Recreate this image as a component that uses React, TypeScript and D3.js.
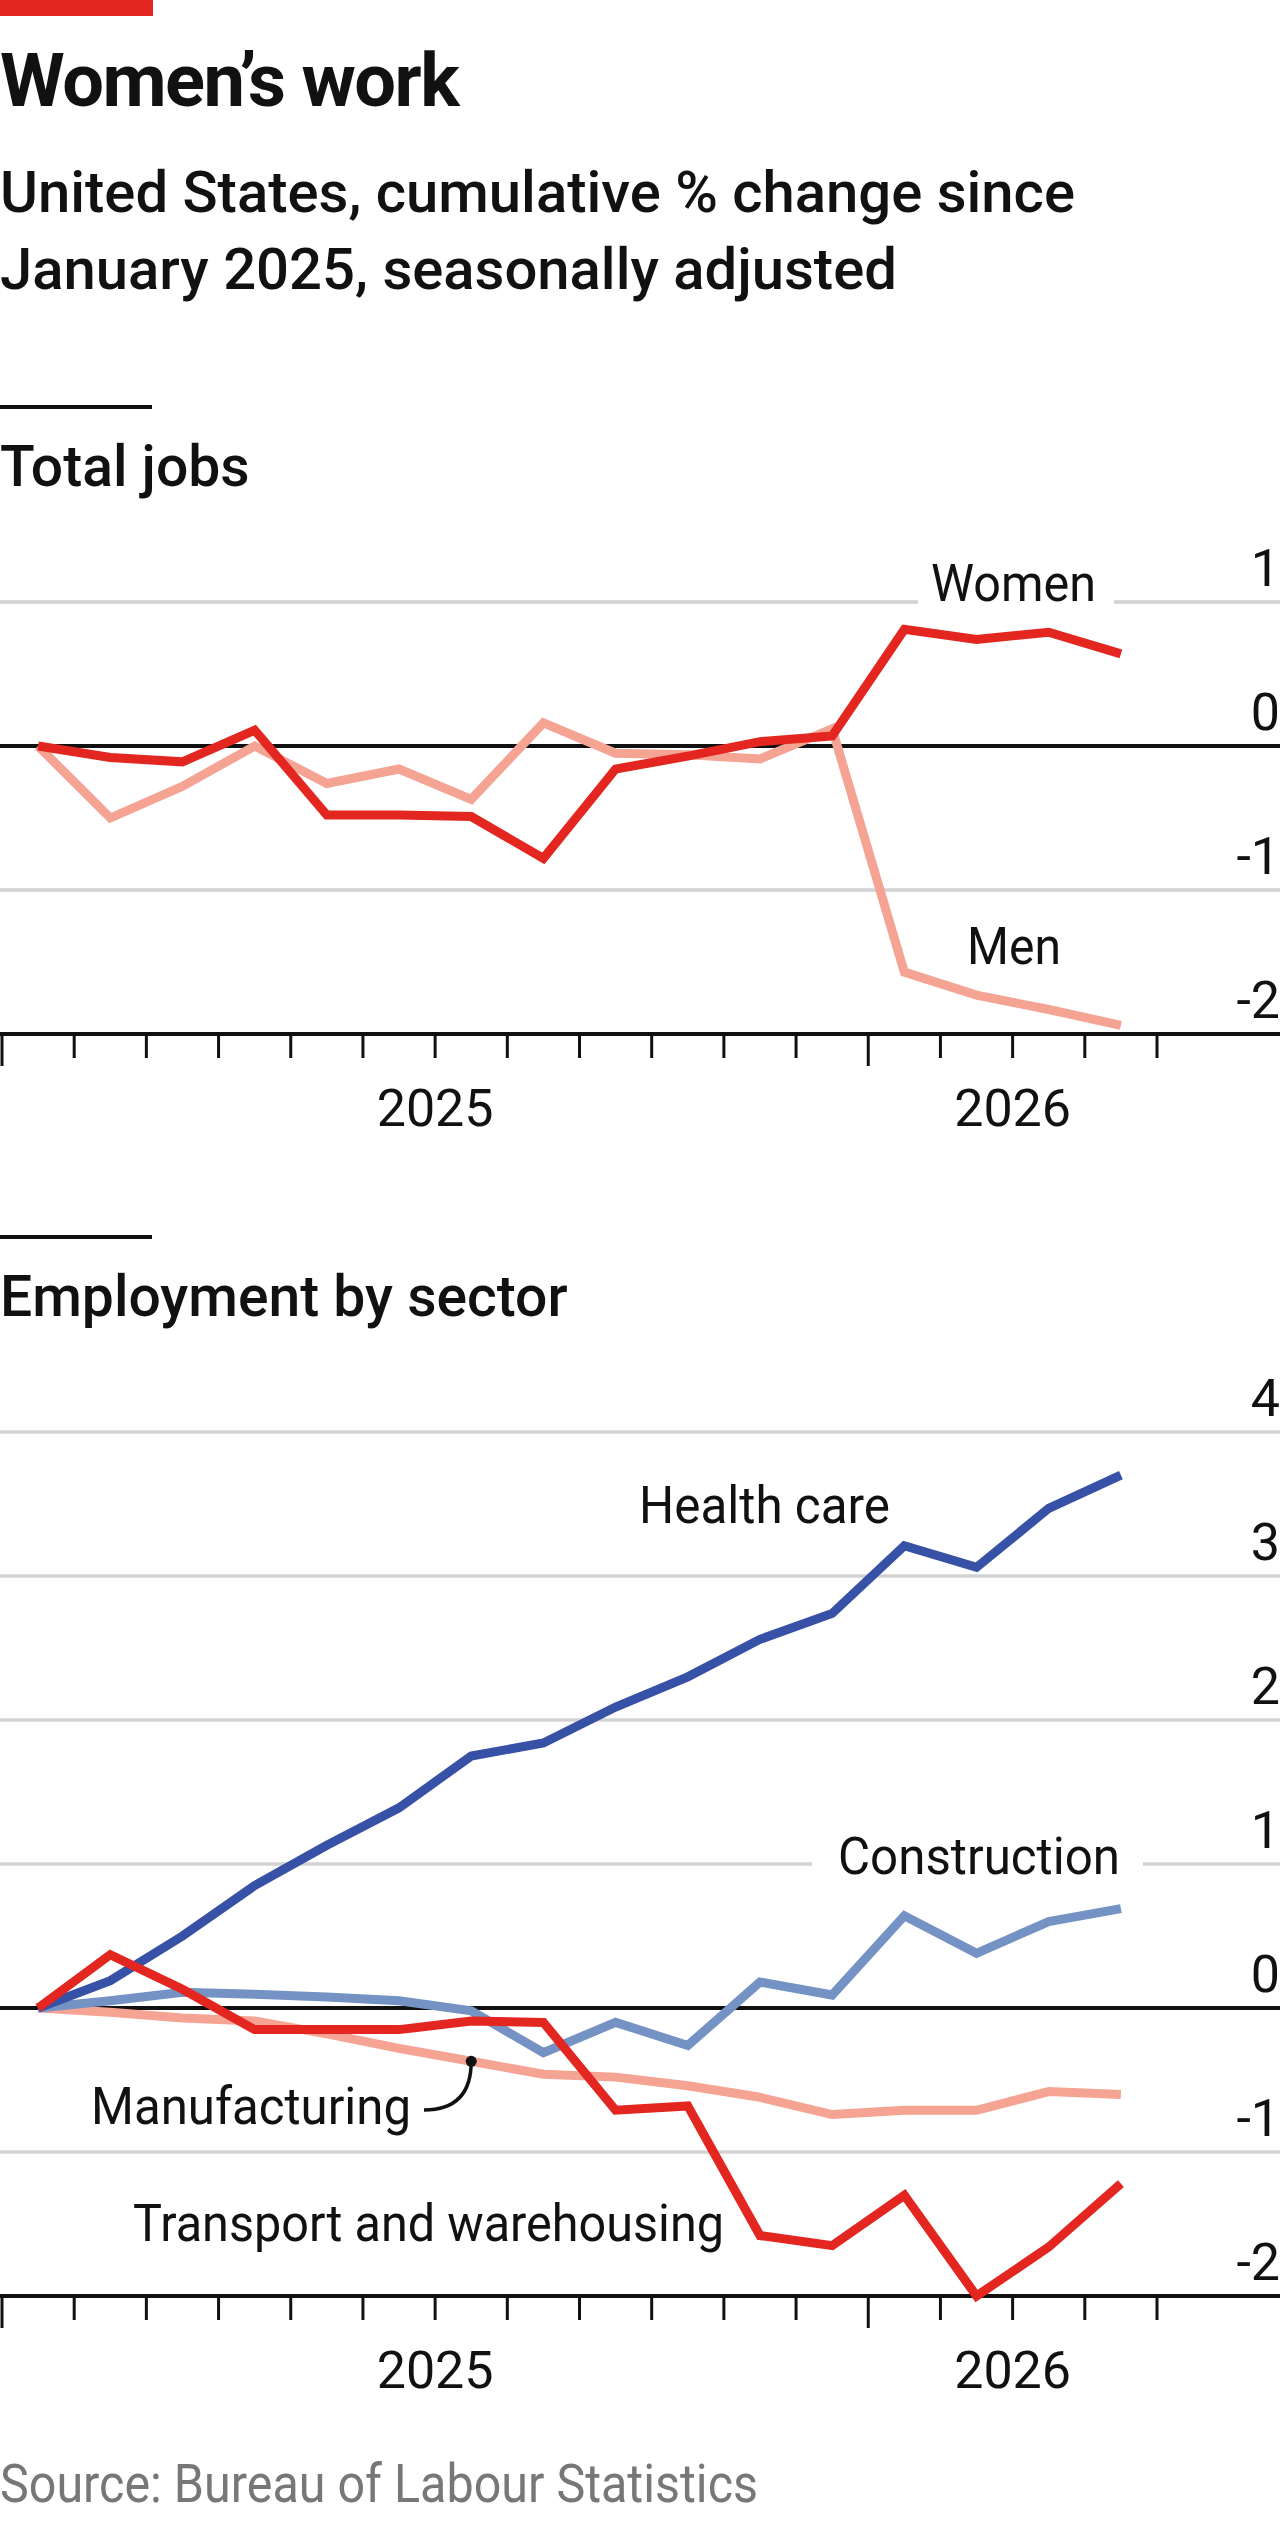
import { useEffect } from "react";
import * as d3 from "d3";

// months shown, Jan 2025 - Apr 2026
const months = [
  "Jan 2025", "Feb 2025", "Mar 2025", "Apr 2025", "May 2025", "Jun 2025",
  "Jul 2025", "Aug 2025", "Sep 2025", "Oct 2025", "Nov 2025", "Dec 2025",
  "Jan 2026", "Feb 2026", "Mar 2026", "Apr 2026",
];
const yearLabels = ["2025", "2026"];

// total jobs, cumulative % change
const women = [0, -0.08, -0.11, 0.11, -0.48, -0.48, -0.49, -0.78, -0.16, -0.07, 0.03, 0.07, 0.81, 0.74, 0.79, 0.64];
const men = [0, -0.5, -0.28, 0, -0.26, -0.16, -0.37, 0.16, -0.05, -0.06, -0.09, 0.12, -1.57, -1.73, -1.83, -1.94];

// employment by sector, cumulative % change
const healthCare = [0, 0.19, 0.5, 0.85, 1.13, 1.39, 1.75, 1.84, 2.09, 2.3, 2.56, 2.74, 3.21, 3.06, 3.47, 3.7];
const construction = [0, 0.05, 0.11, 0.095, 0.076, 0.05, -0.02, -0.31, -0.1, -0.26, 0.18, 0.09, 0.64, 0.38, 0.6, 0.69];
const manufacturing = [0, -0.03, -0.07, -0.09, -0.18, -0.28, -0.37, -0.46, -0.48, -0.54, -0.62, -0.74, -0.71, -0.71, -0.58, -0.6];
const transport = [0, 0.37, 0.13, -0.15, -0.15, -0.15, -0.09, -0.1, -0.71, -0.68, -1.58, -1.65, -1.3, -2.0, -1.66, -1.22];

const topTicks = [-2, -1, 0, 1];
const bottomTicks = [-2, -1, 0, 1, 2, 3, 4];

const RED = "#e3261f";
const PINK = "#f5a393";
const BLUE = "#3651a6";
const LIGHTBLUE = "#7592c5";
const GRID = "#d2d2d2";
const FONT = "Roboto, 'Noto Sans', sans-serif";

const W = 1280;
const x = d3.scaleLinear().domain([0, months.length]).range([2, 1157]);

function Panel({ y, ticks, series, children }) {
  const line = (vals) =>
    d3.line().x((_, i) => x(i + 0.5)).y((d) => y(d))(vals);
  const monthTicks = d3.range(0, months.length + 1);
  return (
    <g>
      {ticks.filter((t) => t > ticks[0] && t !== 0).map((t) => (
        <line key={t} x1={0} x2={W} y1={y(t)} y2={y(t)} stroke={GRID} strokeWidth={3.5} />
      ))}
      {children.grid}
      <line x1={0} x2={W} y1={y(0)} y2={y(0)} stroke="#111" strokeWidth={4} />
      <line x1={0} x2={W} y1={y(ticks[0])} y2={y(ticks[0])} stroke="#111" strokeWidth={4} />
      {monthTicks.map((m) => (
        <line
          key={m}
          x1={x(m)}
          x2={x(m)}
          y1={y(ticks[0])}
          y2={y(ticks[0]) + (m % 12 === 0 ? 32 : 24)}
          stroke="#111"
          strokeWidth={3}
        />
      ))}
      {ticks.map((t) => (
        <text key={t} x={W} y={y(t) - 16} textAnchor="end" fontSize={52} fontFamily={FONT} fill="#111">
          {t}
        </text>
      ))}
      {yearLabels.map((lab, i) => (
        <text
          key={lab}
          x={x(i === 0 ? 6 : 14)}
          y={y(ticks[0]) + 92}
          textAnchor="middle"
          fontSize={52}
          fontFamily={FONT}
          fill="#111"
        >
          {lab}
        </text>
      ))}
      {series.map((s) => (
        <path
          key={s.name}
          d={line(s.values)}
          fill="none"
          stroke={s.color}
          strokeWidth={9}
          strokeLinejoin="miter"
        />
      ))}
      {children.labels}
    </g>
  );
}

// annotation with its width squeezed to the condensed look of the original
function Label({ x, y, w, children }) {
  return (
    <text
      x={x}
      y={y}
      textLength={w}
      lengthAdjust="spacingAndGlyphs"
      fontSize={52}
      fontFamily={FONT}
      fill="#111"
    >
      {children}
    </text>
  );
}

export default function App() {
  useEffect(() => {
    document.body.style.margin = "0";
  }, []);

  const yTop = d3.scaleLinear().domain([-2, 1]).range([1034, 602]);
  const yBot = d3.scaleLinear().domain([-2, 4]).range([2296, 1432]);

  const dotX = x(6.5);
  const dotY = yBot(manufacturing[6]);

  return (
    <svg width={W} height={2521} style={{ display: "block" }}>
      <rect x={0} y={0} width={153} height={16} fill={RED} />
      <text x={0} y={106} fontSize={74} fontWeight={700} fontFamily={FONT} fill="#111" letterSpacing={-1.5}>
        Women’s work
      </text>
      <text x={0} y={212} fontSize={58} fontWeight={500} fontFamily={FONT} fill="#111">
        United States, cumulative % change since
      </text>
      <text x={0} y={289} fontSize={58} fontWeight={500} fontFamily={FONT} fill="#111">
        January 2025, seasonally adjusted
      </text>

      <rect x={0} y={405} width={152} height={4} fill="#111" />
      <text x={0} y={486} fontSize={57} fontWeight={500} fontFamily={FONT} fill="#111">
        Total jobs
      </text>

      <Panel
        y={yTop}
        ticks={topTicks}
        series={[
          { name: "Men", values: men, color: PINK },
          { name: "Women", values: women, color: RED },
        ]}
      >
        {{
          grid: <rect x={918} y={590} width={196} height={20} fill="#fff" />,
          labels: (
            <g>
              <Label x={931} y={601} w={165}>Women</Label>
              <Label x={967} y={964} w={94}>Men</Label>
            </g>
          ),
        }}
      </Panel>

      <rect x={0} y={1235} width={152} height={4} fill="#111" />
      <text x={0} y={1316} fontSize={57} fontWeight={500} fontFamily={FONT} fill="#111">
        Employment by sector
      </text>

      <Panel
        y={yBot}
        ticks={bottomTicks}
        series={[
          { name: "Manufacturing", values: manufacturing, color: PINK },
          { name: "Construction", values: construction, color: LIGHTBLUE },
          { name: "Health care", values: healthCare, color: BLUE },
          { name: "Transport and warehousing", values: transport, color: RED },
        ]}
      >
        {{
          grid: <rect x={812} y={1852} width={331} height={24} fill="#fff" />,
          labels: (
            <g>
              <Label x={639} y={1523} w={251}>Health care</Label>
              <Label x={838} y={1874} w={282}>Construction</Label>
              <Label x={91} y={2124} w={320}>Manufacturing</Label>
              <path
                d={`M${424},${2110} Q${dotX},${2110} ${dotX},${dotY}`}
                fill="none"
                stroke="#111"
                strokeWidth={3.5}
              />
              <circle cx={dotX} cy={dotY} r={5.5} fill="#111" />
              <Label x={133} y={2241} w={591}>Transport and warehousing</Label>
            </g>
          ),
        }}
      </Panel>

      <text
        x={0}
        y={2502}
        textLength={758}
        lengthAdjust="spacingAndGlyphs"
        fontSize={54}
        fontFamily={FONT}
        fill="#777"
      >
        Source: Bureau of Labour Statistics
      </text>
    </svg>
  );
}
